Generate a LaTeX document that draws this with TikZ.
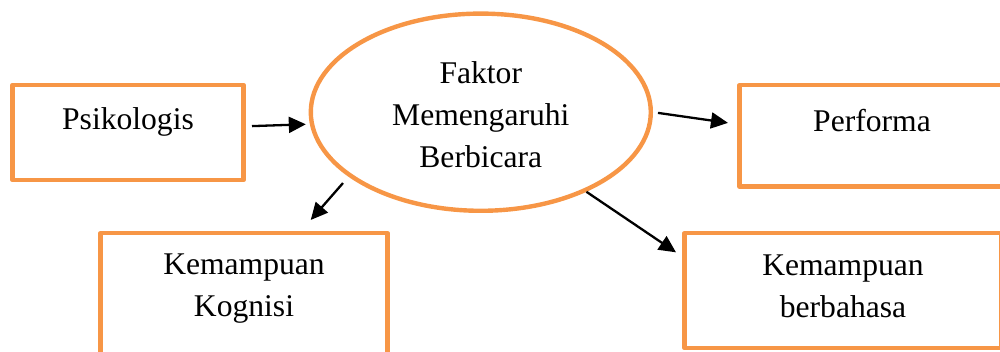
\documentclass[tikz,border=0pt]{standalone}
\usepackage{fontspec}
\setmainfont{Liberation Serif}
\usetikzlibrary{arrows.meta,shapes.geometric}
\definecolor{boxorange}{HTML}{F79646}

\begin{document}
\begin{tikzpicture}[x=0.5pt,y=-0.5pt,font=\fontsize{15.8}{21}\selectfont,
    box/.style = {draw=boxorange, line width=2.2pt, line join=round, inner sep=0pt, align=center},
    oval/.style = {draw=boxorange, line width=2.2pt, ellipse, inner sep=0pt, align=center},
    arr/.style = {-{Triangle[length=8.5pt,width=8pt]}, line width=1.15pt}]
      \useasboundingbox (0,0) rectangle (1000,352);

      \node[oval, minimum width=170pt, minimum height=98.6pt, text width=100pt, text height=10.9pt, text depth=39.1pt](fak) at (480.8,112.2){Faktor\\Memengaruhi\\Berbicara};
      \node[box, text width=115.5pt, text height=22.5pt, text depth=25pt](psi) at (128,132.5){Psikologis};
      \node[box, text width=132.5pt, text height=23.2pt, text depth=27.5pt](perf) at (872,136){Performa};
      \node[box, text width=143.5pt, text height=20.35pt, text depth=43pt](kog) at (244,296.65){Kemampuan\\Kognisi};
      \node[box, text width=158.5pt, text height=20.85pt, text depth=36.6pt](bah) at (843,290.75){Kemampuan\\berbahasa};

      \path
      (psi.3.6) edge[arr, shorten <=3.15pt, shorten >=2pt] (fak.184.3)
      (fak.east) edge[arr, shorten <=2.5pt, shorten >=4.7pt] (perf.175)
      (fak.206.2) edge[arr, shorten <=4.2pt, shorten >=7.4pt] (kog.49.1)
      (fak.323.1) edge[arr, shorten >=3.8pt] (bah.168.3)
      ;

    \end{tikzpicture}
\end{document}
